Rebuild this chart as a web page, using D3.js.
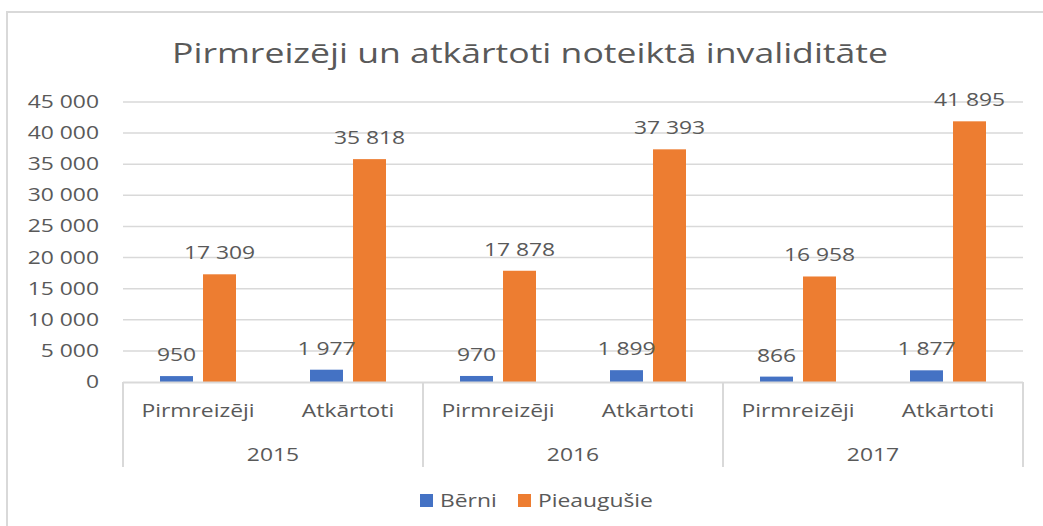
<!DOCTYPE html>
<html>
<head>
<meta charset="utf-8">
<script src="https://cdnjs.cloudflare.com/ajax/libs/d3/7.8.5/d3.min.js"></script>
<style>
  body { margin: 0; background: #fff; }
  text { font-family: "Open Sans", sans-serif; fill: #595959; }
</style>
</head>
<body>
<div id="chart-area"></div>
<script>
// data
var years = ["2015", "2016", "2017"];
var kinds = ["Pirmreizēji", "Atkārtoti"];
var series = ["Bērni", "Pieaugušie"];
var colors = ["#4472C4", "#ED7D31"];
// values per year, per kind: [Bērni, Pieaugušie]
var berni = [950, 1977, 970, 1899, 866, 1877];
var pieaugusie = [17309, 35818, 17878, 37393, 16958, 41895];
var yTicks = [0, 5000, 10000, 15000, 20000, 25000, 30000, 35000, 40000, 45000];

var W = 1043, H = 526;
var sx = 1.27; // text in the picture is stretched sideways

var svg = d3.select("#chart-area")
  .append("svg")
  .attr("width", W)
  .attr("height", H);

// chart frame
svg.append("rect")
  .attr("x", 7).attr("y", 12)
  .attr("width", W + 20).attr("height", H + 20)
  .attr("fill", "none")
  .attr("stroke", "#d9d9d9")
  .attr("stroke-width", 2);

// build rows
var rows = [];
years.forEach(function(y, i) {
  kinds.forEach(function(k, j) {
    var n = i * 2 + j;
    rows.push({id: y + "-" + k, year: y, kind: k, values: [berni[n], pieaugusie[n]]});
  });
});

var x0 = d3.scaleBand()
  .domain(rows.map(function(d) { return d.id; }))
  .range([123, 1023]);

var x1 = d3.scaleBand()
  .domain(series)
  .range([x0.bandwidth() / 2 - 38, x0.bandwidth() / 2 + 38])
  .paddingInner(0.233);

var y = d3.scaleLinear()
  .domain([0, 45000])
  .range([382, 102]);

var loc = d3.formatLocale({decimal: ",", thousands: " ", grouping: [3], currency: ["", ""]});
var fmt = loc.format(",d");

function stretchText(g, x, yy) {
  return g.append("text")
    .attr("transform", "translate(" + x + "," + yy + ") scale(" + sx + ",1)");
}

// gridlines
svg.append("g")
  .selectAll("line")
  .data(yTicks.slice(1))
  .enter()
  .append("line")
  .attr("x1", 123).attr("x2", 1023)
  .attr("y1", function(d) { return y(d); })
  .attr("y2", function(d) { return y(d); })
  .attr("stroke", "#d9d9d9")
  .attr("stroke-width", 1.5);

// y tick labels
var yAxis = svg.append("g");
yTicks.forEach(function(t) {
  stretchText(yAxis, 99, y(t) + 6)
    .attr("text-anchor", "end")
    .attr("font-size", 18)
    .text(fmt(t));
});

// bars
var groups = svg.append("g")
  .selectAll("g")
  .data(rows)
  .enter()
  .append("g")
  .attr("transform", function(d) { return "translate(" + x0(d.id) + ",0)"; });

groups.selectAll("rect")
  .data(function(d) { return d.values.map(function(v, i) { return {s: series[i], v: v, c: colors[i]}; }); })
  .enter()
  .append("rect")
  .attr("x", function(d) { return x1(d.s); })
  .attr("y", function(d) { return y(d.v); })
  .attr("width", x1.bandwidth())
  .attr("height", function(d) { return y(0) - y(d.v); })
  .attr("fill", function(d) { return d.c; });

// data labels
rows.forEach(function(r) {
  r.values.forEach(function(v, i) {
    stretchText(svg, x0(r.id) + x1(series[i]) + x1.bandwidth() / 2, y(v) - 15)
      .attr("text-anchor", "middle")
      .attr("font-size", 18)
      .text(fmt(v));
  });
});

// x axis line and separators
svg.append("line")
  .attr("x1", 123).attr("x2", 1023)
  .attr("y1", 382.5).attr("y2", 382.5)
  .attr("stroke", "#d9d9d9").attr("stroke-width", 2);

var seps = [0, 2, 4, 6].map(function(i) { return i < 6 ? x0(rows[i].id) : 1023; });
svg.append("g")
  .selectAll("line")
  .data(seps)
  .enter()
  .append("line")
  .attr("x1", function(d) { return d; })
  .attr("x2", function(d) { return d; })
  .attr("y1", 382).attr("y2", 467)
  .attr("stroke", "#d9d9d9").attr("stroke-width", 2);

// category labels
rows.forEach(function(r) {
  stretchText(svg, x0(r.id) + x0.bandwidth() / 2, 417)
    .attr("text-anchor", "middle")
    .attr("font-size", 18)
    .text(r.kind);
});
years.forEach(function(yr, i) {
  var a = x0(rows[i * 2].id);
  stretchText(svg, a + x0.bandwidth(), 461)
    .attr("text-anchor", "middle")
    .attr("font-size", 18)
    .text(yr);
});

// title
svg.append("text")
  .attr("x", 530).attr("y", 63)
  .attr("text-anchor", "middle")
  .attr("font-size", 28)
  .attr("textLength", 716)
  .attr("lengthAdjust", "spacingAndGlyphs")
  .text("Pirmreizēji un atkārtoti noteiktā invaliditāte");

// legend
var legendX = [420, 518];
series.forEach(function(s, i) {
  svg.append("rect")
    .attr("x", legendX[i]).attr("y", 494)
    .attr("width", 13).attr("height", 13)
    .attr("fill", colors[i]);
  stretchText(svg, legendX[i] + 20, 507)
    .attr("font-size", 18)
    .text(s);
});
</script>
</body>
</html>
